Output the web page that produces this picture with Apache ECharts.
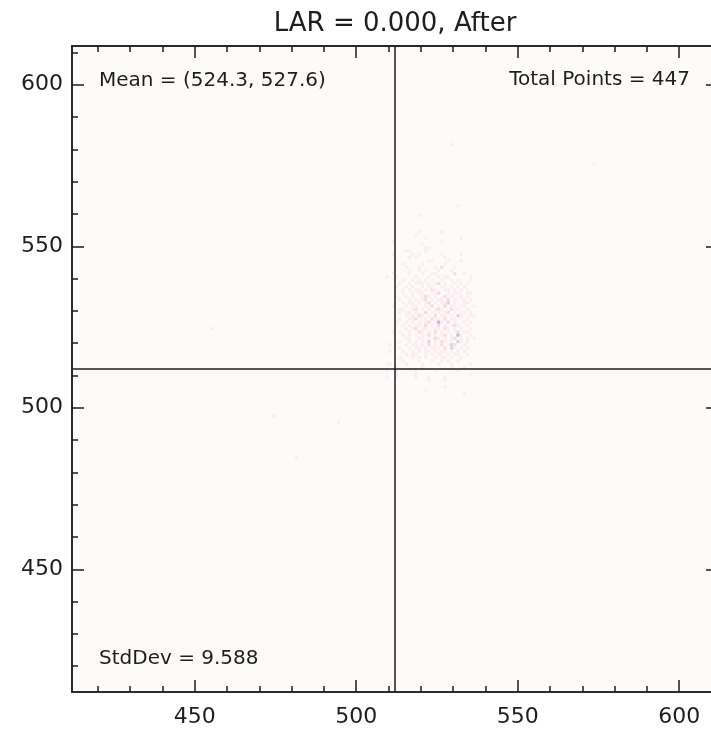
<!DOCTYPE html>
<html>
<head>
<meta charset="utf-8">
<script src="https://cdn.jsdelivr.net/npm/echarts@6/dist/echarts.min.js"></script>
<style>
html,body{margin:0;padding:0;background:#ffffff;}
#chart{width:711px;height:732px;}
</style>
</head>
<body>
<div id="chart"></div>
<script>
// ---- data ----
const titleText = 'LAR = 0.000, After';
const meanText = 'Mean = (524.3, 527.6)';
const totalText = 'Total Points = 447';
const stdText = 'StdDev = 9.588';

const axisMin = 412;
const axisMax = 612;
const majorTicks = [450, 500, 550, 600];
const minorTicks = [420, 430, 440, 460, 470, 480, 490, 510, 520, 530, 540, 560, 570, 580, 590, 610];
const centerX = 512;
const centerY = 512;

// 2D histogram (bin = 1): each string is one row of counts, x starting at binX0,
// rows going down from binTopY
const binX0 = 508;
const binTopY = 562;
const binRows = [
  "0000000000000000000000010000000", // 562
  "0000000000000000000000000000000",
  "0000000000000000000000000000000",
  "0000000000010000000000000000000",
  "0000000000000000000000000000000",
  "0000000000000000000000000000000",
  "0000000000000000000000000000000",
  "0000000000000000000000000000000",
  "0000000000010000001000000000000", // 554
  "0000000000100000000000000000000",
  "0000000000000100000000001000000",
  "0001000000000000001000000000000",
  "0000000000001000000000000000000", // 550
  "0000000000000110000000000000000",
  "0000000110000100000000000000000",
  "0001000001010000001000001000000",
  "0000000010100000000100000000000",
  "0000000000000011000010001000000", // 545
  "0000001000001000000100000000000",
  "0000000100010000102000100000000",
  "0000000010010100010001000000000",
  "0001000010001001100000200100000",
  "0100100000100010010110000001000", // 540
  "0000001001010101001001010001000",
  "0000010010111010120100101010000",
  "0000100101001011001101010100000",
  "0000001010110102100110101010000",
  "0000001001011001120010110011000", // 535
  "0000100101001210100201001010000",
  "0000010010101201011020100101000",
  "0000001011010120101130100110000",
  "0001000101100112010201101100100",
  "0000011001201010121002110010000", // 530
  "0000010110100201110120101101000",
  "0000000101021010201101031001100",
  "0000010011200102110201101010000",
  "0000100101010120141020100101000",
  "0000001010110201020101210010000", // 525
  "0000000101201100110210101001000",
  "0001010010021010201010120110000",
  "0000001010101020101201041001000",
  "0000000110011010210101201010100",
  "0000010010101030102101031010000", // 520
  "0010000101101020102013200100000",
  "0000010010110101110203101010000",
  "0010001001010110101101010100000",
  "0000000101100101011010110010000",
  "0000010001010100101101001000000", // 515
  "0000001000010001001010010000000",
  "0110000100001000010001000001000",
  "0000100000001000000001000100000",
  "0100100000100000100000010000000",
  "0000100000100000000000000001000", // 510
  "0100100000100010000100000000000",
  "0000000000000010000100000000000",
  "0000000000000000000000000000000",
  "0000000000000000000100000000000",
  "0000000000000100000000000000000", // 505
  "0000000000000000000000000100000"
];
const outliers = [
  [455, 524, 1],
  [474, 497, 1],
  [494, 495, 1],
  [481, 484, 1],
  [573, 575, 1],
  [529, 581, 1]
];
const countColors = ['#fdecf0', '#f8dae4', '#e6cde9', '#c6b5e4', '#ab9bdd'];

// ---- build ----
const cells = [];
binRows.forEach(function (row, r) {
  for (let i = 0; i < row.length; i++) {
    const c = +row[i];
    if (c > 0) cells.push([binX0 + i, binTopY - r, c]);
  }
});
outliers.forEach(function (o) { cells.push(o); });

const ink = '#1e1e1e';
const font = '"DejaVu Sans", sans-serif';

function makeAxis(dim, position, ticks, len, labels) {
  const a = {
    type: 'value',
    position: position,
    min: axisMin,
    max: axisMax,
    splitLine: { show: false },
    axisLine: { show: true, onZero: false, lineStyle: { color: ink, width: 1.5 } },
    axisTick: { show: true, inside: true, length: len, customValues: ticks,
                lineStyle: { color: ink, width: 1.5 } },
    axisLabel: { show: false }
  };
  if (labels) {
    a.axisLabel = {
      show: true,
      customValues: majorTicks,
      color: ink,
      fontSize: 22,
      fontFamily: font,
      margin: dim === 'x' ? 14 : 9
    };
  }
  return a;
}

const chart = echarts.init(document.getElementById('chart'), null, { renderer: 'canvas' });
chart.setOption({
  animation: false,
  backgroundColor: '#ffffff',
  grid: {
    left: 72, top: 46, width: 646, height: 646,
    containLabel: false,
    outerBoundsMode: 'none',
    show: true, backgroundColor: '#fcfbf9', borderWidth: 0
  },
  xAxis: [
    makeAxis('x', 'bottom', majorTicks, 12, true),
    makeAxis('x', 'bottom', minorTicks, 6, false),
    makeAxis('x', 'top', majorTicks, 12, false),
    makeAxis('x', 'top', minorTicks, 6, false)
  ],
  yAxis: [
    makeAxis('y', 'left', majorTicks, 12, true),
    makeAxis('y', 'left', minorTicks, 6, false),
    makeAxis('y', 'right', majorTicks, 12, false),
    makeAxis('y', 'right', minorTicks, 6, false)
  ],
  visualMap: {
    show: false,
    type: 'piecewise',
    dimension: 2,
    seriesIndex: 0,
    pieces: [
      { value: 1, color: countColors[0] },
      { value: 2, color: countColors[1] },
      { value: 3, color: countColors[2] },
      { value: 4, color: countColors[3] },
      { gte: 5, color: countColors[4] }
    ]
  },
  series: [{
    type: 'custom',
    xAxisIndex: 0,
    yAxisIndex: 0,
    data: cells,
    clip: true,
    renderItem: function (params, api) {
      const x = api.value(0), y = api.value(1);
      const p0 = api.coord([x, y + 1]);
      const p1 = api.coord([x + 1, y]);
      return {
        type: 'rect',
        shape: { x: p0[0], y: p0[1], width: p1[0] - p0[0], height: p1[1] - p0[1] },
        style: { fill: api.visual('color') }
      };
    },
    markLine: {
      silent: true,
      symbol: 'none',
      animation: false,
      label: { show: false },
      lineStyle: { color: ink, width: 1.5, type: 'solid' },
      data: [{ xAxis: centerX }, { yAxis: centerY }]
    }
  }],
  graphic: [
    { type: 'text', x: 395, y: 24, style: { text: titleText, fill: ink, fontSize: 26, fontFamily: font, align: 'center', verticalAlign: 'middle', textAlign: 'center', textVerticalAlign: 'middle' } },
    { type: 'text', x: 99, y: 81, style: { text: meanText, fill: ink, fontSize: 20, fontFamily: font, align: 'left', verticalAlign: 'middle', textAlign: 'left', textVerticalAlign: 'middle' } },
    { type: 'text', x: 690, y: 80, style: { text: totalText, fill: ink, fontSize: 20, fontFamily: font, align: 'right', verticalAlign: 'middle', textAlign: 'right', textVerticalAlign: 'middle' } },
    { type: 'text', x: 99, y: 659, style: { text: stdText, fill: ink, fontSize: 20, fontFamily: font, align: 'left', verticalAlign: 'middle', textAlign: 'left', textVerticalAlign: 'middle' } }
  ]
});
</script>
</body>
</html>
